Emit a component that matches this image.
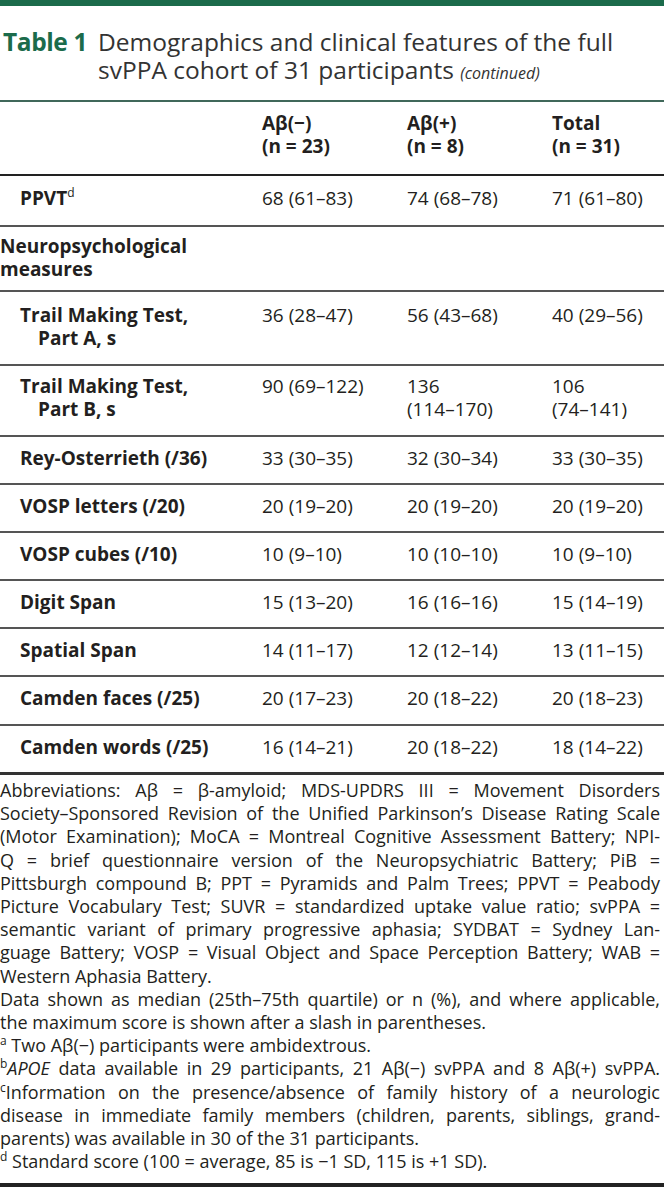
import React from "react";

const titleLabel = "Table 1";
const titleLines = ["Demographics and clinical features of the full", "svPPA cohort of 31 participants"];
const titleNote = "(continued)";

const groupNames = ["Aβ(−)", "Aβ(+)", "Total"];
const groupSizes = ["(n = 23)", "(n = 8)", "(n = 31)"];

const rowLabels = [
  ["PPVT"],
  ["Neuropsychological", "measures"],
  ["Trail Making Test,", "Part A, s"],
  ["Trail Making Test,", "Part B, s"],
  ["Rey-Osterrieth (/36)"],
  ["VOSP letters (/20)"],
  ["VOSP cubes (/10)"],
  ["Digit Span"],
  ["Spatial Span"],
  ["Camden faces (/25)"],
  ["Camden words (/25)"],
];
const rowSup = ["d", "", "", "", "", "", "", "", "", "", ""];
const rowIsSection = [false, true, false, false, false, false, false, false, false, false, false];

const negValues = ["68 (61–83)", "", "36 (28–47)", "90 (69–122)", "33 (30–35)", "20 (19–20)", "10 (9–10)", "15 (13–20)", "14 (11–17)", "20 (17–23)", "16 (14–21)"];
const posValues = ["74 (68–78)", "", "56 (43–68)", "136 (114–170)", "32 (30–34)", "20 (19–20)", "10 (10–10)", "16 (16–16)", "12 (12–14)", "20 (18–22)", "20 (18–22)"];
const totalValues = ["71 (61–80)", "", "40 (29–56)", "106 (74–141)", "33 (30–35)", "20 (19–20)", "10 (9–10)", "15 (14–19)", "13 (11–15)", "20 (18–23)", "18 (14–22)"];

// footnote lines: [sup, text, italicPrefix, justify]
const noteLines: [string, string, string, boolean][] = [
  ["", "Abbreviations: Aβ = β-amyloid; MDS-UPDRS III = Movement Disorders", "", true],
  ["", "Society–Sponsored Revision of the Unified Parkinson’s Disease Rating Scale", "", true],
  ["", "(Motor Examination); MoCA = Montreal Cognitive Assessment Battery; NPI-", "", true],
  ["", "Q = brief questionnaire version of the Neuropsychiatric Battery; PiB =", "", true],
  ["", "Pittsburgh compound B; PPT = Pyramids and Palm Trees; PPVT = Peabody", "", true],
  ["", "Picture Vocabulary Test; SUVR = standardized uptake value ratio; svPPA =", "", true],
  ["", "semantic variant of primary progressive aphasia; SYDBAT = Sydney Lan-", "", true],
  ["", "guage Battery; VOSP = Visual Object and Space Perception Battery; WAB =", "", true],
  ["", "Western Aphasia Battery.", "", false],
  ["", "Data shown as median (25th–75th quartile) or n (%), and where applicable,", "", true],
  ["", "the maximum score is shown after a slash in parentheses.", "", false],
  ["a", " Two Aβ(−) participants were ambidextrous.", "", false],
  ["b", " data available in 29 participants, 21 Aβ(−) svPPA and 8 Aβ(+) svPPA.", "APOE", true],
  ["c", "Information on the presence/absence of family history of a neurologic", "", true],
  ["", "disease in immediate family members (children, parents, siblings, grand-", "", true],
  ["", "parents) was available in 30 of the 31 participants.", "", false],
  ["d", " Standard score (100 = average, 85 is −1 SD, 115 is +1 SD).", "", false],
];

// layout only: per-row vertical padding [top, bottom]
const rowPadding: [number, number][] = [
  [11, 15], [8, 9], [12, 14], [9, 14], [10, 13], [10, 13], [10, 13], [10, 13], [10, 13], [10, 14], [10, 13],
];

if (typeof document !== "undefined") {
  document.body.style.margin = "0";
}

const FONT = "'Open Sans', 'Noto Sans', sans-serif";
const TEXT = "#231f20";

function Value({ v }: { v: string }) {
  const idx = v.indexOf(" ");
  if (idx < 0) return <>{v}</>;
  return (
    <>
      <span style={{ whiteSpace: "nowrap" }}>{v.slice(0, idx)}</span>{" "}
      <span style={{ whiteSpace: "nowrap" }}>{v.slice(idx + 1)}</span>
    </>
  );
}

export default function App() {
  const cols = [negValues, posValues, totalValues];
  return (
    <div style={{ width: 664, height: 1187, position: "relative", fontFamily: FONT, color: TEXT, background: "#fff", overflow: "hidden" }}>
      <div style={{ height: 6, background: "#1b6b4b" }} />
      <div style={{ marginTop: 22, display: "flex", fontSize: 24.5, lineHeight: "28px", paddingLeft: 3 }}>
        <div style={{ fontWeight: 700, color: "#1b6b4b", width: 95, flex: "none", letterSpacing: -0.4 }}>{titleLabel}</div>
        <div style={{ color: "#333" }}>
          <div>{titleLines[0]}</div>
          <div>
            {titleLines[1]} <span style={{ fontStyle: "italic", fontSize: 16 }}>{titleNote}</span>
          </div>
        </div>
      </div>
      <div style={{ position: "absolute", top: 100, left: 0, width: 664, height: 2, background: "#40685a" }} />
      <table style={{ position: "absolute", top: 102, left: 0, width: 664, borderCollapse: "collapse", tableLayout: "fixed", fontSize: 19, lineHeight: "23px" }}>
        <colgroup>
          <col style={{ width: 262 }} />
          <col style={{ width: 145 }} />
          <col style={{ width: 145 }} />
          <col style={{ width: 112 }} />
        </colgroup>
        <thead>
          <tr style={{ borderBottom: "2px solid #222" }}>
            <th style={{ padding: 0 }} />
            {groupNames.map((g, i) => (
              <th key={g} style={{ textAlign: "left", fontWeight: 700, padding: "10px 0 16px 0", verticalAlign: "top", whiteSpace: "nowrap" }}>
                <div>{g}</div>
                <div>{groupSizes[i]}</div>
              </th>
            ))}
          </tr>
        </thead>
        <tbody>
          {rowLabels.map((lines, r) => {
            const [pt, pb] = rowPadding[r];
            return (
              <tr key={r} style={{ borderBottom: r === rowLabels.length - 1 ? "3px solid #333" : "2px solid #555" }}>
                <td style={{ padding: `${pt}px 20px ${pb}px 0`, verticalAlign: "top", fontWeight: 700 }}>
                  {lines.map((ln, k) => (
                    <div key={k} style={{ paddingLeft: rowIsSection[r] ? 0 : k === 0 ? 20 : 38, whiteSpace: "nowrap" }}>
                      {ln}
                      {k === 0 && rowSup[r] ? <sup style={{ fontSize: 12, fontWeight: 400, lineHeight: 0, verticalAlign: 8 }}>{rowSup[r]}</sup> : null}
                    </div>
                  ))}
                </td>
                {cols.map((vals, c) => (
                  <td key={c} style={{ padding: `${pt}px 0 ${pb}px 0`, verticalAlign: "top" }}>
                    <div style={{ width: 106 }}>
                      <Value v={vals[r]} />
                    </div>
                  </td>
                ))}
              </tr>
            );
          })}
        </tbody>
      </table>
      <div style={{ position: "absolute", top: 779, left: 0, width: 660, fontSize: 18, lineHeight: "23.2px" }}>
        {noteLines.map(([sup, text, ital, just], i) => (
          <div key={i} style={{ textAlign: just ? "justify" : "left", textAlignLast: just ? "justify" : "left", whiteSpace: "nowrap" as any }}>
            {sup ? <sup style={{ fontSize: 12, lineHeight: 0, verticalAlign: 7 }}>{sup}</sup> : null}
            {ital ? <i>{ital}</i> : null}
            {text}
          </div>
        ))}
      </div>
      <div style={{ position: "absolute", top: 1183, left: 0, width: 664, height: 4, background: "#222" }} />
    </div>
  );
}
